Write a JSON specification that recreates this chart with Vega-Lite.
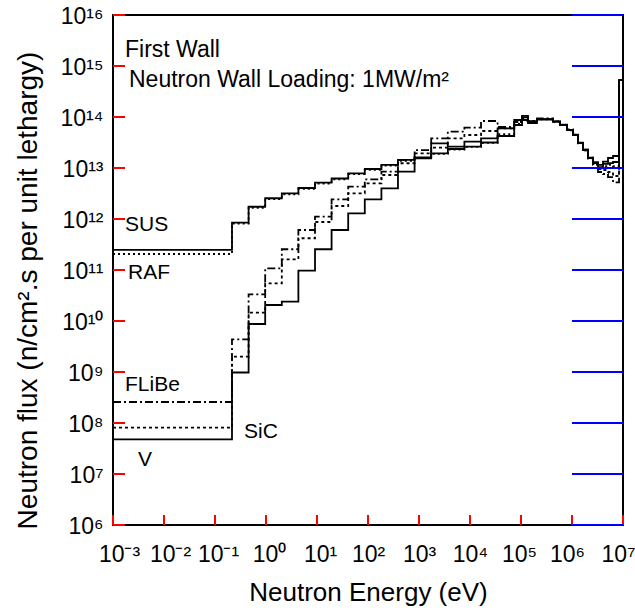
{
  "$schema": "https://vega.github.io/schema/vega-lite/v6.json",
  "width": 510,
  "height": 510,
  "autosize": "none",
  "padding": {"left": 113, "top": 15, "right": 12, "bottom": 85},
  "background": "white",
  "config": {
    "view": {"stroke": "black", "strokeWidth": 2},
    "font": "Liberation Sans"
  },
  "layer": [
    {
      "data": {
        "values": [
          {"s": "SUS", "E": 0.001, "F": 2.47e11}, {"s": "SUS", "E": 0.2154, "F": 8.46e11}, {"s": "SUS", "E": 0.456, "F": 1.74e12}, {"s": "SUS", "E": 0.964, "F": 2.55e12}, {"s": "SUS", "E": 2.042, "F": 3.19e12}, {"s": "SUS", "E": 4.315, "F": 4.05e12}, {"s": "SUS", "E": 9.14, "F": 5.15e12}, {"s": "SUS", "E": 19.32, "F": 6.23e12}, {"s": "SUS", "E": 40.9, "F": 7.87e12}, {"s": "SUS", "E": 86.5, "F": 9.55e12}, {"s": "SUS", "E": 183.2, "F": 1.15e13}, {"s": "SUS", "E": 387, "F": 1.44e13}, {"s": "SUS", "E": 820, "F": 1.61e13}, {"s": "SUS", "E": 1734, "F": 1.94e13}, {"s": "SUS", "E": 3673, "F": 2.36e13}, {"s": "SUS", "E": 7762, "F": 2.62e13}, {"s": "SUS", "E": 16440, "F": 3.16e13}, {"s": "SUS", "E": 34750, "F": 4.24e13}, {"s": "SUS", "E": 73620, "F": 6.97e13}, {"s": "SUS", "E": 104700, "F": 1.05e14}, {"s": "SUS", "E": 137100, "F": 7.62e13}, {"s": "SUS", "E": 206100, "F": 8.93e13}, {"s": "SUS", "E": 423600, "F": 8.09e13}, {"s": "SUS", "E": 582100, "F": 6.97e13}, {"s": "SUS", "E": 798000, "F": 5.56e13}, {"s": "SUS", "E": 1047000, "F": 4.44e13}, {"s": "SUS", "E": 1312000, "F": 3.09e13}, {"s": "SUS", "E": 1644000, "F": 2.25e13}, {"s": "SUS", "E": 2061000, "F": 1.57e13}, {"s": "SUS", "E": 2582000, "F": 1.25e13}, {"s": "SUS", "E": 3236000, "F": 1.04e13}, {"s": "SUS", "E": 4055000, "F": 1.33e13}, {"s": "SUS", "E": 5082000, "F": 1.57e13}, {"s": "SUS", "E": 6368000, "F": 1.72e13}, {"s": "SUS", "E": 8356000, "F": 5.3e14}, {"s": "SUS", "E": 10000000, "F": 5.3e14},

          {"s": "RAF", "E": 0.001, "F": 2.06e11}, {"s": "RAF", "E": 0.2154, "F": 8.1e11}, {"s": "RAF", "E": 0.456, "F": 1.66e12}, {"s": "RAF", "E": 0.964, "F": 2.45e12}, {"s": "RAF", "E": 2.042, "F": 3.05e12}, {"s": "RAF", "E": 4.315, "F": 3.9e12}, {"s": "RAF", "E": 9.14, "F": 4.95e12}, {"s": "RAF", "E": 19.32, "F": 6.0e12}, {"s": "RAF", "E": 40.9, "F": 7.6e12}, {"s": "RAF", "E": 86.5, "F": 9.2e12}, {"s": "RAF", "E": 183.2, "F": 1.11e13}, {"s": "RAF", "E": 387, "F": 1.38e13}, {"s": "RAF", "E": 820, "F": 1.56e13}, {"s": "RAF", "E": 1734, "F": 1.9e13}, {"s": "RAF", "E": 3673, "F": 2.3e13}, {"s": "RAF", "E": 7762, "F": 2.6e13}, {"s": "RAF", "E": 16440, "F": 3.1e13}, {"s": "RAF", "E": 34750, "F": 4.6e13}, {"s": "RAF", "E": 73620, "F": 7.3e13}, {"s": "RAF", "E": 104700, "F": 9.5e13}, {"s": "RAF", "E": 137100, "F": 8.0e13}, {"s": "RAF", "E": 206100, "F": 9.0e13}, {"s": "RAF", "E": 423600, "F": 8.0e13}, {"s": "RAF", "E": 582100, "F": 6.9e13}, {"s": "RAF", "E": 798000, "F": 5.5e13}, {"s": "RAF", "E": 1047000, "F": 4.4e13}, {"s": "RAF", "E": 1312000, "F": 3.05e13}, {"s": "RAF", "E": 1644000, "F": 2.2e13}, {"s": "RAF", "E": 2061000, "F": 1.55e13}, {"s": "RAF", "E": 2582000, "F": 1.2e13}, {"s": "RAF", "E": 3236000, "F": 1.0e13}, {"s": "RAF", "E": 4055000, "F": 1.09e13}, {"s": "RAF", "E": 5082000, "F": 1.15e13}, {"s": "RAF", "E": 6368000, "F": 1.09e13}, {"s": "RAF", "E": 8356000, "F": 5.3e14}, {"s": "RAF", "E": 10000000, "F": 5.3e14},

          {"s": "V", "E": 0.001, "F": 4.79e7}, {"s": "V", "E": 0.2154, "F": 9.77e8}, {"s": "V", "E": 0.456, "F": 8.73e9}, {"s": "V", "E": 0.964, "F": 2.06e10}, {"s": "V", "E": 2.042, "F": 2.39e10}, {"s": "V", "E": 4.315, "F": 9.68e10}, {"s": "V", "E": 9.14, "F": 2.55e11}, {"s": "V", "E": 19.32, "F": 6.08e11}, {"s": "V", "E": 40.9, "F": 1.29e12}, {"s": "V", "E": 86.5, "F": 2.43e12}, {"s": "V", "E": 183.2, "F": 4.0e12}, {"s": "V", "E": 387, "F": 8.46e12}, {"s": "V", "E": 820, "F": 1.55e13}, {"s": "V", "E": 1734, "F": 3.05e13}, {"s": "V", "E": 3673, "F": 2.62e13}, {"s": "V", "E": 7762, "F": 3.28e13}, {"s": "V", "E": 16440, "F": 3.82e13}, {"s": "V", "E": 34750, "F": 6.0e13}, {"s": "V", "E": 73620, "F": 8.73e13}, {"s": "V", "E": 104700, "F": 9.8e13}, {"s": "V", "E": 137100, "F": 8.3e13}, {"s": "V", "E": 206100, "F": 9.1e13}, {"s": "V", "E": 423600, "F": 8.1e13}, {"s": "V", "E": 582100, "F": 7.0e13}, {"s": "V", "E": 798000, "F": 5.6e13}, {"s": "V", "E": 1047000, "F": 4.5e13}, {"s": "V", "E": 1312000, "F": 3.1e13}, {"s": "V", "E": 1644000, "F": 2.3e13}, {"s": "V", "E": 2061000, "F": 1.6e13}, {"s": "V", "E": 2582000, "F": 1.3e13}, {"s": "V", "E": 3236000, "F": 1.15e13}, {"s": "V", "E": 4055000, "F": 1.2e13}, {"s": "V", "E": 5082000, "F": 1.25e13}, {"s": "V", "E": 6368000, "F": 1.31e13}, {"s": "V", "E": 8356000, "F": 5.3e14}, {"s": "V", "E": 10000000, "F": 5.3e14},

          {"s": "FLiBe", "E": 0.001, "F": 2.58e8}, {"s": "FLiBe", "E": 0.2154, "F": 4.38e9}, {"s": "FLiBe", "E": 0.456, "F": 3.34e10}, {"s": "FLiBe", "E": 0.964, "F": 1.08e11}, {"s": "FLiBe", "E": 2.042, "F": 2.55e11}, {"s": "FLiBe", "E": 4.315, "F": 6.08e11}, {"s": "FLiBe", "E": 9.14, "F": 1.11e12}, {"s": "FLiBe", "E": 19.32, "F": 2.43e12}, {"s": "FLiBe", "E": 40.9, "F": 4.3e12}, {"s": "FLiBe", "E": 86.5, "F": 6.0e12}, {"s": "FLiBe", "E": 183.2, "F": 8.46e12}, {"s": "FLiBe", "E": 387, "F": 1.44e13}, {"s": "FLiBe", "E": 820, "F": 2.25e13}, {"s": "FLiBe", "E": 1734, "F": 3.82e13}, {"s": "FLiBe", "E": 3673, "F": 5.15e13}, {"s": "FLiBe", "E": 7762, "F": 6.17e13}, {"s": "FLiBe", "E": 16440, "F": 8.35e13}, {"s": "FLiBe", "E": 34750, "F": 6.37e13}, {"s": "FLiBe", "E": 73620, "F": 7.98e13}, {"s": "FLiBe", "E": 104700, "F": 8.73e13}, {"s": "FLiBe", "E": 137100, "F": 8.35e13}, {"s": "FLiBe", "E": 206100, "F": 9.35e13}, {"s": "FLiBe", "E": 423600, "F": 8.2e13}, {"s": "FLiBe", "E": 582100, "F": 7.1e13}, {"s": "FLiBe", "E": 798000, "F": 5.7e13}, {"s": "FLiBe", "E": 1047000, "F": 4.5e13}, {"s": "FLiBe", "E": 1312000, "F": 3.15e13}, {"s": "FLiBe", "E": 1644000, "F": 2.3e13}, {"s": "FLiBe", "E": 2061000, "F": 1.55e13}, {"s": "FLiBe", "E": 2582000, "F": 1.15e13}, {"s": "FLiBe", "E": 3236000, "F": 8.35e12}, {"s": "FLiBe", "E": 4055000, "F": 7.62e12}, {"s": "FLiBe", "E": 5082000, "F": 6.65e12}, {"s": "FLiBe", "E": 6368000, "F": 5.24e12}, {"s": "FLiBe", "E": 8356000, "F": 5.3e14}, {"s": "FLiBe", "E": 10000000, "F": 5.3e14},

          {"s": "SiC", "E": 0.001, "F": 8.09e7}, {"s": "SiC", "E": 0.2154, "F": 2.0e9}, {"s": "SiC", "E": 0.456, "F": 1.46e10}, {"s": "SiC", "E": 0.964, "F": 5.48e10}, {"s": "SiC", "E": 2.042, "F": 1.62e11}, {"s": "SiC", "E": 4.315, "F": 4.19e11}, {"s": "SiC", "E": 9.14, "F": 8.73e11}, {"s": "SiC", "E": 19.32, "F": 1.8e12}, {"s": "SiC", "E": 40.9, "F": 3.19e12}, {"s": "SiC", "E": 86.5, "F": 5.01e12}, {"s": "SiC", "E": 183.2, "F": 7.29e12}, {"s": "SiC", "E": 387, "F": 1.24e13}, {"s": "SiC", "E": 820, "F": 1.94e13}, {"s": "SiC", "E": 1734, "F": 2.5e13}, {"s": "SiC", "E": 3673, "F": 3.82e13}, {"s": "SiC", "E": 7762, "F": 4.44e13}, {"s": "SiC", "E": 16440, "F": 5.31e13}, {"s": "SiC", "E": 34750, "F": 6.0e13}, {"s": "SiC", "E": 73620, "F": 7.98e13}, {"s": "SiC", "E": 104700, "F": 8.5e13}, {"s": "SiC", "E": 137100, "F": 8.2e13}, {"s": "SiC", "E": 206100, "F": 9.2e13}, {"s": "SiC", "E": 423600, "F": 8.3e13}, {"s": "SiC", "E": 582100, "F": 7.0e13}, {"s": "SiC", "E": 798000, "F": 5.6e13}, {"s": "SiC", "E": 1047000, "F": 4.4e13}, {"s": "SiC", "E": 1312000, "F": 3.1e13}, {"s": "SiC", "E": 1644000, "F": 2.25e13}, {"s": "SiC", "E": 2061000, "F": 1.6e13}, {"s": "SiC", "E": 2582000, "F": 1.2e13}, {"s": "SiC", "E": 3236000, "F": 9.55e12}, {"s": "SiC", "E": 4055000, "F": 9.14e12}, {"s": "SiC", "E": 5082000, "F": 8.35e12}, {"s": "SiC", "E": 6368000, "F": 6.97e12}, {"s": "SiC", "E": 8356000, "F": 5.3e14}, {"s": "SiC", "E": 10000000, "F": 5.3e14}
        ]
      },
      "mark": {"type": "line", "interpolate": "step-after", "color": "black", "clip": true},
      "encoding": {
        "x": {
          "field": "E", "type": "quantitative",
          "scale": {"type": "log", "domain": [0.001, 10000000], "nice": false},
          "axis": {
            "orient": "bottom",
            "values": [0.001,0.01,0.1,1,10,100,1000,10000,100000,1000000,10000000],
            "grid": false, "domain": false, "ticks": false,
            "labelExpr": "'10' + replace(replace(replace(replace(replace(replace(replace(replace(replace(replace(replace(toString(round(log(datum.value)/LN10)), regexp('-','g'), '⁻'), regexp('0','g'), '⁰'), regexp('1','g'), '¹'), regexp('2','g'), '²'), regexp('3','g'), '³'), regexp('4','g'), '⁴'), regexp('5','g'), '⁵'), regexp('6','g'), '⁶'), regexp('7','g'), '⁷'), regexp('8','g'), '⁸'), regexp('9','g'), '⁹')",
            "labelFont": "Liberation Sans", "labelFontSize": 23, "labelColor": "black",
            "labelPadding": 18, "labelOverlap": false, "labelFlush": false, "labelBound": false,
            "labelOffset": {"condition": [
              {"test": "datum.value < 0.05", "value": 6},
              {"test": "datum.value < 50", "value": 3},
              {"test": "datum.value < 50000", "value": 0},
              {"test": "datum.value < 500000", "value": -2}
            ], "value": -5},
            "title": "Neutron Energy (eV)",
            "titleFont": "Liberation Sans", "titleFontSize": 26, "titleFontWeight": "normal", "titleColor": "black",
            "titleY": 75, "titleBaseline": "alphabetic"
          }
        },
        "y": {
          "field": "F", "type": "quantitative",
          "scale": {"type": "log", "domain": [1000000, 10000000000000000], "nice": false},
          "axis": {
            "orient": "left",
            "values": [1e6,1e7,1e8,1e9,1e10,1e11,1e12,1e13,1e14,1e15,1e16],
            "grid": false, "domain": false, "ticks": false,
            "labelExpr": "'10' + replace(replace(replace(replace(replace(replace(replace(replace(replace(replace(replace(toString(round(log(datum.value)/LN10)), regexp('-','g'), '⁻'), regexp('0','g'), '⁰'), regexp('1','g'), '¹'), regexp('2','g'), '²'), regexp('3','g'), '³'), regexp('4','g'), '⁴'), regexp('5','g'), '⁵'), regexp('6','g'), '⁶'), regexp('7','g'), '⁷'), regexp('8','g'), '⁸'), regexp('9','g'), '⁹')",
            "labelFont": "Liberation Sans", "labelFontSize": 23, "labelColor": "black",
            "labelPadding": 10, "labelOverlap": false, "labelFlush": false, "labelBound": false, "labelBaseline": "middle", "labelOffset": 1,
            "title": "Neutron flux (n/cm².s per unit lethargy)",
            "titleFont": "Liberation Sans", "titleFontSize": 28, "titleFontWeight": "normal", "titleColor": "black",
            "titleX": -85, "titleY": 275, "titleAngle": -90, "titleAlign": "center", "titleBaseline": "middle"
          }
        },
        "detail": {"field": "s"},
        "strokeDash": {
          "field": "s", "type": "nominal",
          "scale": {"domain": ["FLiBe", "SiC", "RAF", "V", "SUS"], "range": [[8, 3, 2, 3], [3, 3], [2, 3], [1, 0], [1, 0]]},
          "legend": null
        },
        "strokeWidth": {
          "field": "s", "type": "nominal",
          "scale": {"domain": ["FLiBe", "SiC", "RAF", "V", "SUS"], "range": [1.8, 1.8, 1.8, 2.2, 2.2]},
          "legend": null
        }
      }
    },
    {
      "data": {
        "values": [
          {"t": "First Wall", "E": 0.00172, "F": 2.06e15},
          {"t": "Neutron Wall Loading: 1MW/m²", "E": 0.00206, "F": 5.3e14}
        ]
      },
      "mark": {"type": "text", "align": "left", "baseline": "middle", "font": "Liberation Sans", "fontSize": 23, "color": "black"},
      "encoding": {
        "x": {"field": "E", "type": "quantitative", "scale": {"type": "log", "domain": [0.001, 10000000], "nice": false}, "axis": null},
        "y": {"field": "F", "type": "quantitative", "scale": {"type": "log", "domain": [1000000, 10000000000000000], "nice": false}, "axis": null},
        "text": {"field": "t"}
      }
    },
    {
      "data": {
        "values": [
          {"t": "SUS", "E": 0.00172, "F": 7.62e11},
          {"t": "RAF", "E": 0.00197, "F": 8.73e10},
          {"t": "FLiBe", "E": 0.00172, "F": 5.56e8},
          {"t": "SiC", "E": 0.371, "F": 6.76e7},
          {"t": "V", "E": 0.00309, "F": 1.88e7}
        ]
      },
      "mark": {"type": "text", "align": "left", "baseline": "middle", "font": "Liberation Sans", "fontSize": 21, "color": "black"},
      "encoding": {
        "x": {"field": "E", "type": "quantitative", "scale": {"type": "log", "domain": [0.001, 10000000], "nice": false}, "axis": null},
        "y": {"field": "F", "type": "quantitative", "scale": {"type": "log", "domain": [1000000, 10000000000000000], "nice": false}, "axis": null},
        "text": {"field": "t"}
      }
    },
    {
      "data": {"values": [{"v": 0.001}, {"v": 0.01}, {"v": 0.1}, {"v": 1}, {"v": 10}, {"v": 100}, {"v": 1000}, {"v": 10000}, {"v": 100000}, {"v": 1000000}, {"v": 10000000}]},
      "mark": {"type": "rule", "color": "red", "strokeWidth": 2, "y2Offset": -10},
      "encoding": {
        "x": {"field": "v", "type": "quantitative", "scale": {"type": "log", "domain": [0.001, 10000000], "nice": false}, "axis": null},
        "y": {"datum": 1000000, "type": "quantitative", "scale": {"type": "log", "domain": [1000000, 10000000000000000], "nice": false}, "axis": null},
        "y2": {"datum": 1000000}
      }
    },
    {
      "data": {"values": [{"v": 1e6}, {"v": 1e7}, {"v": 1e8}, {"v": 1e9}, {"v": 1e10}, {"v": 1e11}, {"v": 1e12}, {"v": 1e13}, {"v": 1e14}, {"v": 1e15}, {"v": 1e16}]},
      "mark": {"type": "rule", "color": "red", "strokeWidth": 2, "x2Offset": 12},
      "encoding": {
        "y": {"field": "v", "type": "quantitative", "scale": {"type": "log", "domain": [1000000, 10000000000000000], "nice": false}, "axis": null},
        "x": {"datum": 0.001, "type": "quantitative", "scale": {"type": "log", "domain": [0.001, 10000000], "nice": false}, "axis": null},
        "x2": {"datum": 0.001}
      }
    },
    {
      "data": {"values": [{"v": 1e6}, {"v": 1e7}, {"v": 1e8}, {"v": 1e9}, {"v": 1e10}, {"v": 1e11}, {"v": 1e12}, {"v": 1e13}, {"v": 1e14}, {"v": 1e15}, {"v": 1e16}]},
      "mark": {"type": "rule", "color": "blue", "strokeWidth": 2},
      "encoding": {
        "y": {"field": "v", "type": "quantitative", "scale": {"type": "log", "domain": [1000000, 10000000000000000], "nice": false}, "axis": null},
        "x": {"datum": 1000000, "type": "quantitative", "scale": {"type": "log", "domain": [0.001, 10000000], "nice": false}, "axis": null},
        "x2": {"datum": 10000000}
      }
    }
  ],
  "resolve": {"axis": {"x": "independent", "y": "independent"}}
}
